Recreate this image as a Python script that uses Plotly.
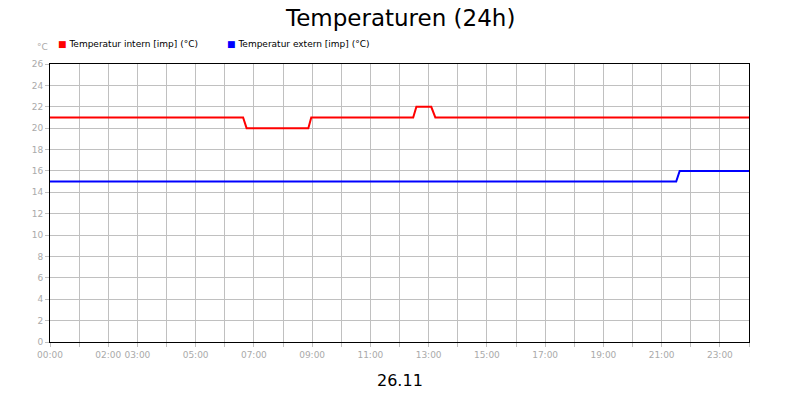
import plotly.graph_objects as go

intern_x = [0, 6.63, 6.75, 8.87, 8.97, 12.47, 12.58, 13.09, 13.23, 24]
intern_y = [21, 21, 20, 20, 21, 21, 22, 22, 21, 21]
extern_x = [0, 21.5, 21.62, 24]
extern_y = [15, 15, 16, 16]
tick_hours = list(range(25))
tick_labels = {0: "00:00", 2: "02:00", 3: "03:00", 5: "05:00", 7: "07:00", 9: "09:00",
               11: "11:00", 13: "13:00", 15: "15:00", 17: "17:00", 19: "19:00",
               21: "21:00", 23: "23:00"}
y_ticks = list(range(0, 27, 2))

L, R, T, B = 42, 43, 56, 50
PW, PH = 699, 278

fig = go.Figure()
fig.add_trace(go.Scatter(x=intern_x, y=intern_y, mode="lines", line=dict(color="#ff0000", width=2),
                         name="Temperatur intern [imp] (°C)", showlegend=False))
fig.add_trace(go.Scatter(x=extern_x, y=extern_y, mode="lines", line=dict(color="#0000ff", width=2),
                         name="Temperatur extern [imp] (°C)", showlegend=False))

fig.update_layout(
    width=784, height=384, paper_bgcolor="white", plot_bgcolor="white",
    margin=dict(l=L, r=R, t=T, b=B),
    font=dict(family="DejaVu Sans", size=9, color="#aaaaaa"),
    xaxis=dict(range=[0, 24], tickvals=tick_hours, tickangle=0,
               ticktext=[tick_labels.get(h, "") for h in tick_hours],
               showgrid=True, gridcolor="#c0c0c0", gridwidth=1, ticks="outside", ticklen=4,
               tickcolor="#c0c0c0", showline=True, linecolor="black", mirror=True, linewidth=1,
               zeroline=False, tickfont=dict(color="#aaaaaa", size=9)),
    yaxis=dict(range=[0, 26], tickvals=y_ticks, showgrid=True, gridcolor="#c0c0c0",
               ticks="outside", ticklen=4, tickcolor="#c0c0c0", showline=True, linecolor="black",
               mirror=True, linewidth=1, zeroline=False, tickfont=dict(color="#aaaaaa", size=9)),
    shapes=[dict(type="rect", xref="paper", yref="paper", x0=-(L + 7) / PW, x1=1 + (R + 7) / PW,
                 y0=-(B + 7) / PH, y1=1 + (T + 7) / PH, line=dict(color="black", width=2))],
    annotations=[
        dict(text="Temperaturen (24h)", xref="paper", yref="paper", x=0.5, y=1 + 46 / PH,
             showarrow=False, font=dict(size=23, color="black"), yanchor="middle"),
        dict(text="26.11", xref="paper", yref="paper", x=0.5, y=-38 / PH,
             showarrow=False, font=dict(size=16, color="black"), yanchor="middle"),
        dict(text="°C", xref="paper", yref="paper", x=-8 / PW, y=1 + 17 / PH,
             showarrow=False, font=dict(size=9, color="#aaaaaa"), xanchor="center", yanchor="middle"),
        dict(text="<span style='color:#ff0000'>■</span> Temperatur intern [imp] (°C)",
             xref="paper", yref="paper", x=6 / PW, y=1 + 20 / PH, showarrow=False,
             font=dict(size=9, color="black"), xanchor="left", yanchor="middle"),
        dict(text="<span style='color:#0000ff'>■</span> Temperatur extern [imp] (°C)",
             xref="paper", yref="paper", x=175 / PW, y=1 + 20 / PH, showarrow=False,
             font=dict(size=9, color="black"), xanchor="left", yanchor="middle"),
    ],
)
fig.write_html("out.html")
